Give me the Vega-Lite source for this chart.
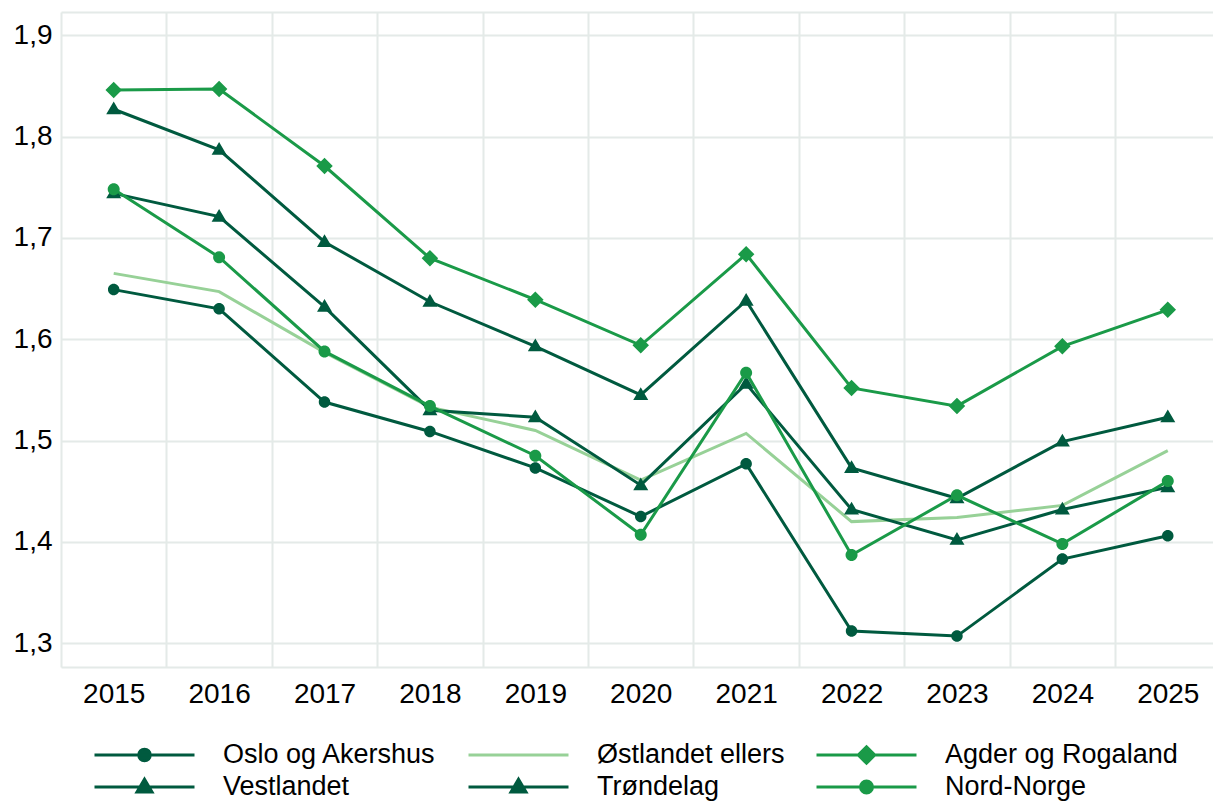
{
  "$schema": "https://vega.github.io/schema/vega-lite/v6.json",
  "width": 1152,
  "height": 655,
  "autosize": {"type": "none"},
  "padding": {"left": 61, "top": 12, "right": 0, "bottom": 134},
  "background": "white",
  "config": {
    "view": {"stroke": null},
    "font": "Liberation Sans",
    "axis": {
      "labelFont": "Liberation Sans",
      "labelFontSize": 28,
      "labelColor": "#000000",
      "gridColor": "#e4eae8",
      "gridWidth": 2,
      "domainColor": "#e4eae8",
      "domainWidth": 2,
      "ticks": false,
      "title": null
    }
  },
  "data": {
    "values": [
      {"r": "Oslo og Akershus", "year": 2015, "v": 1.649},
      {"r": "Oslo og Akershus", "year": 2016, "v": 1.630},
      {"r": "Oslo og Akershus", "year": 2017, "v": 1.538},
      {"r": "Oslo og Akershus", "year": 2018, "v": 1.509},
      {"r": "Oslo og Akershus", "year": 2019, "v": 1.473},
      {"r": "Oslo og Akershus", "year": 2020, "v": 1.425},
      {"r": "Oslo og Akershus", "year": 2021, "v": 1.477},
      {"r": "Oslo og Akershus", "year": 2022, "v": 1.312},
      {"r": "Oslo og Akershus", "year": 2023, "v": 1.307},
      {"r": "Oslo og Akershus", "year": 2024, "v": 1.383},
      {"r": "Oslo og Akershus", "year": 2025, "v": 1.406},
      {"r": "Østlandet ellers", "year": 2015, "v": 1.665},
      {"r": "Østlandet ellers", "year": 2016, "v": 1.647},
      {"r": "Østlandet ellers", "year": 2017, "v": 1.587},
      {"r": "Østlandet ellers", "year": 2018, "v": 1.533},
      {"r": "Østlandet ellers", "year": 2019, "v": 1.510},
      {"r": "Østlandet ellers", "year": 2020, "v": 1.461},
      {"r": "Østlandet ellers", "year": 2021, "v": 1.507},
      {"r": "Østlandet ellers", "year": 2022, "v": 1.420},
      {"r": "Østlandet ellers", "year": 2023, "v": 1.424},
      {"r": "Østlandet ellers", "year": 2024, "v": 1.436},
      {"r": "Østlandet ellers", "year": 2025, "v": 1.490},
      {"r": "Agder og Rogaland", "year": 2015, "v": 1.846},
      {"r": "Agder og Rogaland", "year": 2016, "v": 1.847},
      {"r": "Agder og Rogaland", "year": 2017, "v": 1.771},
      {"r": "Agder og Rogaland", "year": 2018, "v": 1.680},
      {"r": "Agder og Rogaland", "year": 2019, "v": 1.639},
      {"r": "Agder og Rogaland", "year": 2020, "v": 1.594},
      {"r": "Agder og Rogaland", "year": 2021, "v": 1.684},
      {"r": "Agder og Rogaland", "year": 2022, "v": 1.552},
      {"r": "Agder og Rogaland", "year": 2023, "v": 1.534},
      {"r": "Agder og Rogaland", "year": 2024, "v": 1.593},
      {"r": "Agder og Rogaland", "year": 2025, "v": 1.629},
      {"r": "Vestlandet", "year": 2015, "v": 1.827},
      {"r": "Vestlandet", "year": 2016, "v": 1.787},
      {"r": "Vestlandet", "year": 2017, "v": 1.696},
      {"r": "Vestlandet", "year": 2018, "v": 1.637},
      {"r": "Vestlandet", "year": 2019, "v": 1.593},
      {"r": "Vestlandet", "year": 2020, "v": 1.545},
      {"r": "Vestlandet", "year": 2021, "v": 1.638},
      {"r": "Vestlandet", "year": 2022, "v": 1.473},
      {"r": "Vestlandet", "year": 2023, "v": 1.443},
      {"r": "Vestlandet", "year": 2024, "v": 1.499},
      {"r": "Vestlandet", "year": 2025, "v": 1.523},
      {"r": "Trøndelag", "year": 2015, "v": 1.744},
      {"r": "Trøndelag", "year": 2016, "v": 1.721},
      {"r": "Trøndelag", "year": 2017, "v": 1.632},
      {"r": "Trøndelag", "year": 2018, "v": 1.530},
      {"r": "Trøndelag", "year": 2019, "v": 1.523},
      {"r": "Trøndelag", "year": 2020, "v": 1.456},
      {"r": "Trøndelag", "year": 2021, "v": 1.556},
      {"r": "Trøndelag", "year": 2022, "v": 1.432},
      {"r": "Trøndelag", "year": 2023, "v": 1.402},
      {"r": "Trøndelag", "year": 2024, "v": 1.432},
      {"r": "Trøndelag", "year": 2025, "v": 1.454},
      {"r": "Nord-Norge", "year": 2015, "v": 1.748},
      {"r": "Nord-Norge", "year": 2016, "v": 1.681},
      {"r": "Nord-Norge", "year": 2017, "v": 1.588},
      {"r": "Nord-Norge", "year": 2018, "v": 1.534},
      {"r": "Nord-Norge", "year": 2019, "v": 1.485},
      {"r": "Nord-Norge", "year": 2020, "v": 1.407},
      {"r": "Nord-Norge", "year": 2021, "v": 1.567},
      {"r": "Nord-Norge", "year": 2022, "v": 1.387},
      {"r": "Nord-Norge", "year": 2023, "v": 1.446},
      {"r": "Nord-Norge", "year": 2024, "v": 1.398},
      {"r": "Nord-Norge", "year": 2025, "v": 1.460}
    ]
  },
  "layer": [
    {
      "mark": {"type": "line", "strokeWidth": 3},
      "encoding": {
        "x": {
          "field": "year",
          "type": "quantitative",
          "scale": {"domain": [2014.5, 2025.429], "nice": false, "zero": false},
          "axis": {
            "orient": "bottom",
            "values": [2015, 2016, 2017, 2018, 2019, 2020, 2021, 2022, 2023, 2024, 2025],
            "format": "d",
            "grid": false,
            "domain": true,
            "labelPadding": 13,
            "labelFlush": false,
            "labelOverlap": false
          }
        },
        "y": {
          "field": "v",
          "type": "quantitative",
          "scale": {"domain": [1.2765, 1.923], "nice": false, "zero": false},
          "axis": {
            "values": [1.3, 1.4, 1.5, 1.6, 1.7, 1.8, 1.9],
            "labelExpr": "replace(format(datum.value, '.1f'), '.', ',')",
            "labelPadding": 9,
            "grid": true,
            "domain": true,
            "labelFlush": false,
            "labelOverlap": false
          }
        },
        "color": {
          "field": "r",
          "type": "nominal",
          "scale": {
            "domain": ["Oslo og Akershus", "Østlandet ellers", "Agder og Rogaland", "Vestlandet", "Trøndelag", "Nord-Norge"],
            "range": ["#005a3f", "#97d197", "#1a9a48", "#005a3f", "#005a3f", "#1a9a48"]
          },
          "legend": {
            "title": null,
            "orient": "none",
            "legendX": 32,
            "legendY": 727,
            "columns": 3,
            "direction": "horizontal",
            "labelFont": "Liberation Sans",
            "labelFontSize": 27,
            "labelColor": "#000000",
            "symbolSize": 10000,
            "clipHeight": 32,
            "labelOffset": 27,
            "columnPadding": 30,
            "rowPadding": 0,
            "padding": 0,
            "symbolStrokeWidth": 3,
            "symbolOpacity": 1,
            "labelLimit": 400,
            "encode": {
              "symbols": {
                "update": {
                  "stroke": {"scale": "color", "field": "value"},
                  "fill": {"scale": "color", "field": "value"},
                  "strokeWidth": {"value": 3},
                  "opacity": {"value": 1}
                }
              }
            }
          }
        }
      }
    },
    {
      "mark": {"type": "point", "filled": true, "size": 10000, "opacity": 1},
      "encoding": {
        "x": {
          "field": "year",
          "type": "quantitative",
          "axis": {
            "orient": "top",
            "values": [2015.5, 2016.5, 2017.5, 2018.5, 2019.5, 2020.5, 2021.5, 2022.5, 2023.5, 2024.5],
            "labels": false,
            "grid": true,
            "domain": true
          }
        },
        "y": {"field": "v", "type": "quantitative"},
        "color": {"field": "r", "type": "nominal"},
        "shape": {
          "field": "r",
          "type": "nominal",
          "scale": {
            "domain": ["Oslo og Akershus", "Østlandet ellers", "Agder og Rogaland", "Vestlandet", "Trøndelag", "Nord-Norge"],
            "range": [
              "M-1,0H1M-0.115,0A0.115,0.115,0,1,1,0.115,0A0.115,0.115,0,1,1,-0.115,0Z",
              "M-1,0H1",
              "M-1,0H1M0,-0.165L0.165,0L0,0.165L-0.165,0Z",
              "M-1,0H1M0,-0.155L0.15,0.1L-0.15,0.1Z",
              "M-1,0H1M0,-0.155L0.15,0.1L-0.15,0.1Z",
              "M-1,0H1M-0.12,0A0.12,0.12,0,1,1,0.12,0A0.12,0.12,0,1,1,-0.12,0Z"
            ]
          },
          "legend": {"title": null}
        }
      }
    }
  ],
  "resolve": {"axis": {"x": "independent"}}
}
